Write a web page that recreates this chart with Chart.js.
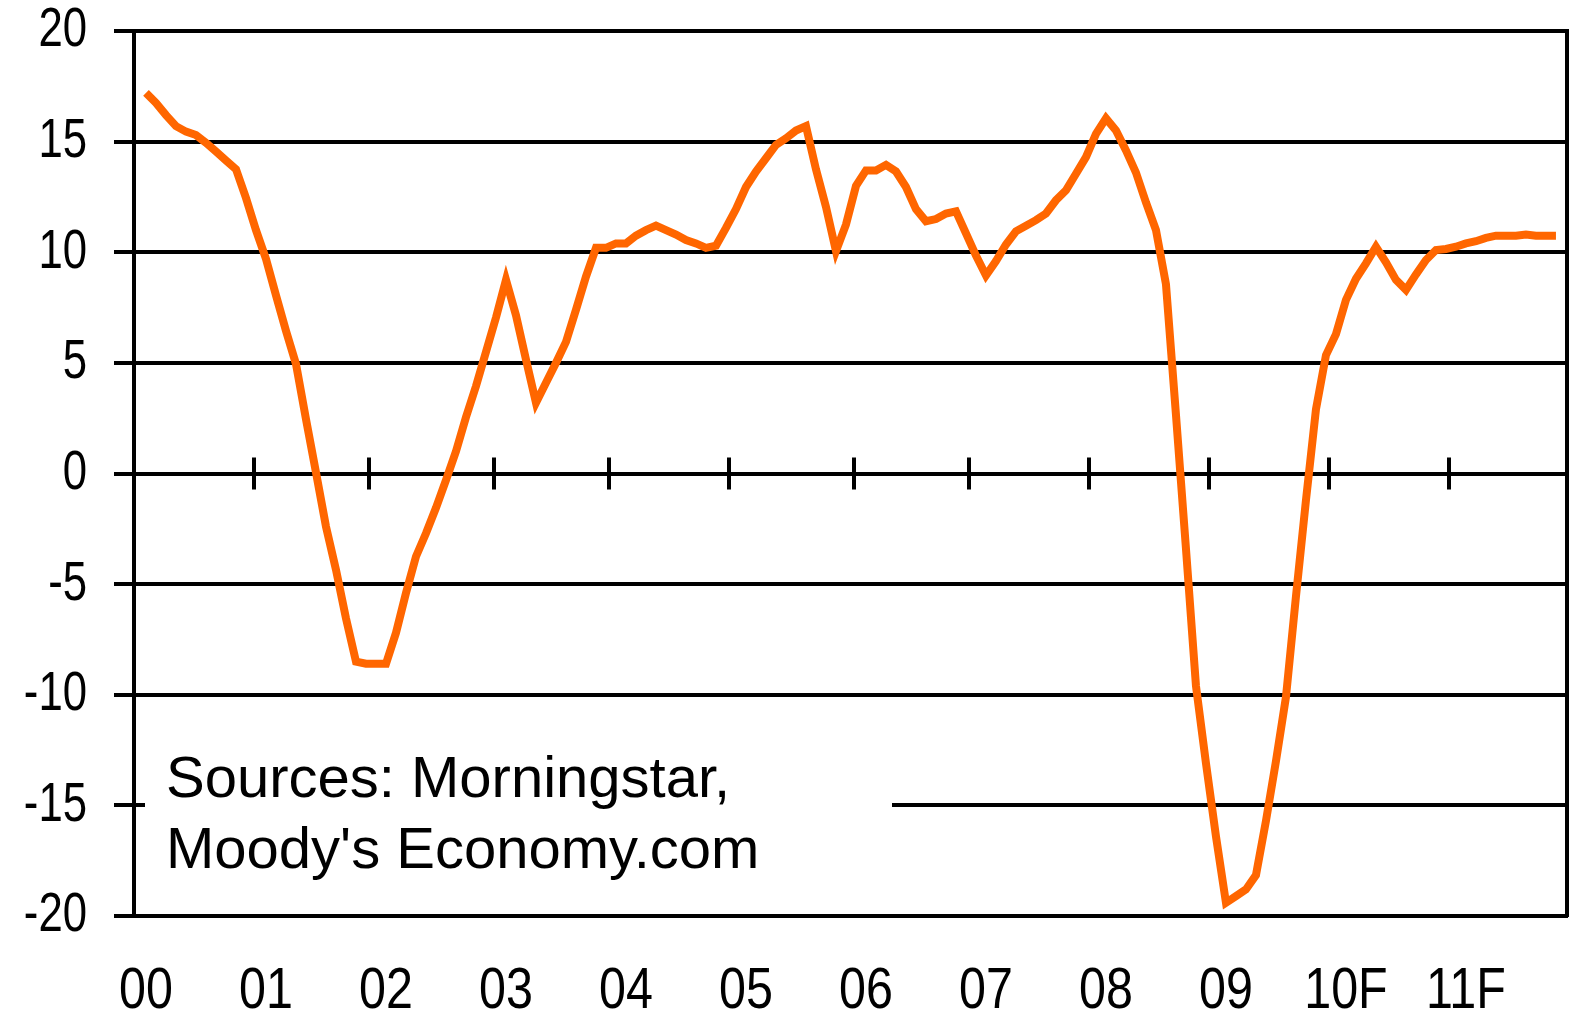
<!DOCTYPE html>
<html lang="en">
<head>
  <meta charset="UTF-8">
  <title>Year-over-year % change</title>
  <script src="https://cdn.jsdelivr.net/npm/chart.js"></script>
  <style>
    html, body { margin: 0; padding: 0; background: #fff; }
    #chart { display: block; }
  </style>
</head>
<body>
  <canvas id="chart" width="1569" height="1016"></canvas>

  <script>
    // tick labels along the bottom, one per year
    const yearLabels = ['00', '01', '02', '03', '04', '05', '06', '07', '08', '09', '10F', '11F'];
    // small tick marks sitting on the zero line (in years since Jan 2000)
    const zeroTicks = [0.9, 1.86, 2.9, 3.86, 4.86, 5.9, 6.86, 7.86, 8.86, 9.86, 10.86];
    const sourceLines = ['Sources: Morningstar,', "Moody's Economy.com"];

    // monthly values, % change year ago
    const y2000 = [17.2, 16.75, 16.2, 15.7, 15.45, 15.3, 14.95, 14.55, 14.15, 13.75, 12.45, 11.0];
    const y2001 = [9.7, 8.05, 6.45, 4.95, 2.45, 0.05, -2.4, -4.35, -6.55, -8.5, -8.6, -8.6];
    const y2002 = [-8.6, -7.2, -5.4, -3.75, -2.7, -1.55, -0.3, 1.0, 2.55, 3.95, 5.5, 7.05];
    const y2003 = [8.75, 7.15, 5.15, 3.2, 4.1, 5.0, 5.95, 7.4, 8.9, 10.2, 10.2, 10.4];
    const y2004 = [10.4, 10.75, 11.0, 11.2, 11.0, 10.8, 10.55, 10.4, 10.2, 10.3, 11.1, 11.95];
    const y2005 = [12.95, 13.65, 14.25, 14.85, 15.15, 15.5, 15.7, 13.75, 12.05, 10.05, 11.25, 13.0];
    const y2006 = [13.7, 13.7, 13.95, 13.65, 12.95, 11.95, 11.4, 11.5, 11.75, 11.85, 10.85, 9.85];
    const y2007 = [8.95, 9.6, 10.35, 10.95, 11.2, 11.45, 11.75, 12.35, 12.8, 13.55, 14.3, 15.35];
    const y2008 = [16.05, 15.5, 14.6, 13.6, 12.25, 11.0, 8.55, 2.65, -3.4, -9.6, -13.1, -16.4];
    const y2009 = [-19.4, -19.1, -18.8, -18.15, -15.7, -13.0, -10.1, -5.55, -1.2, 2.9, 5.35, 6.3];
    const y2010 = [7.85, 8.8, 9.5, 10.25, 9.55, 8.75, 8.3, 9.0, 9.65, 10.1, 10.15, 10.25];
    const y2011 = [10.4, 10.5, 10.65, 10.75, 10.75, 10.75, 10.8, 10.75, 10.75, 10.75];

    const monthly = [y2000, y2001, y2002, y2003, y2004, y2005, y2006, y2007, y2008, y2009, y2010, y2011].flat();
    const points = monthly.map((v, i) => ({ x: i / 12, y: v }));

    const family = "'Liberation Sans', Arial, sans-serif";

    // the axis numbers in the original are a tall, narrow face: squeeze the tick text sideways
    // (56px = y ticks, 57px = year labels)
    const squeeze = { '56px': 0.78, '57px': 0.85 };
    const narrowTicks = {
      id: 'narrowTicks',
      beforeDraw(chart) {
        const c = chart.ctx;
        if (c._narrow) return;
        const fill = c.fillText.bind(c);
        c.fillText = function (text, x, y, maxWidth) {
          const key = Object.keys(squeeze).find(k => c.font.indexOf(k) !== -1);
          if (!key) return fill(text, x, y, maxWidth);
          c.save();
          c.translate(x, y);
          c.scale(squeeze[key], 1);
          fill(text, 0, 0);
          c.restore();
        };
        c._narrow = true;
      }
    };

    // white note box with the sources, plus the little ticks on the zero line
    const extras = {
      id: 'extras',
      beforeDatasetsDraw(chart) {
        const { ctx, scales } = chart;
        ctx.save();
        ctx.fillStyle = '#000';
        const y0 = scales.y.getPixelForValue(0);
        zeroTicks.forEach(t => {
          const px = Math.round(scales.x.getPixelForValue(t));
          ctx.fillRect(px - 2, y0 - 16, 4, 32);
        });

        ctx.fillStyle = '#fff';
        ctx.fillRect(145, 712, 747, 190);
        ctx.fillStyle = '#000';
        ctx.font = '58px ' + family;
        ctx.textBaseline = 'alphabetic';
        ctx.fillText(sourceLines[0], 166, 797);
        ctx.fillText(sourceLines[1], 166, 868);
        ctx.restore();
      }
    };

    const ctx = document.getElementById('chart').getContext('2d');
    new Chart(ctx, {
      type: 'line',
      data: {
        datasets: [{
          data: points,
          borderColor: '#ff6600',
          borderWidth: 8,
          pointRadius: 0,
          tension: 0,
          fill: false
        }]
      },
      options: {
        responsive: false,
        animation: false,
        layout: { padding: { top: 31, right: 2, left: 0, bottom: 0 } },
        plugins: {
          legend: { display: false },
          tooltip: { enabled: false }
        },
        scales: {
          x: {
            type: 'linear',
            min: -0.1,
            max: 11.842,
            afterBuildTicks: s => { s.ticks = yearLabels.map((_, i) => ({ value: i })); },
            afterFit: s => { s.height = 100; s.paddingLeft = 0; s.paddingRight = 0; },
            grid: { display: false, drawTicks: false },
            border: { display: true, color: '#000', width: 4 },
            ticks: {
              callback: v => yearLabels[v],
              color: '#000',
              font: { family, size: 57, lineHeight: 1 },
              padding: 48,
              maxRotation: 0,
              autoSkip: false
            }
          },
          y: {
            min: -20,
            max: 20,
            afterFit: s => { s.width = 134; s.paddingTop = 0; s.paddingBottom = 0; },
            grid: { color: '#000', lineWidth: 4, tickLength: 20 },
            border: { color: '#000', width: 4 },
            ticks: {
              stepSize: 5,
              color: '#000',
              font: { family, size: 56, lineHeight: 1 },
              padding: 27
            }
          },
          yr: {
            position: 'right',
            min: -20,
            max: 20,
            afterFit: s => { s.width = 0; s.paddingTop = 0; s.paddingBottom = 0; },
            grid: { display: false, drawTicks: false },
            border: { display: true, color: '#000', width: 4 },
            ticks: { display: false }
          }
        }
      },
      plugins: [narrowTicks, extras]
    });
  </script>
</body>
</html>
